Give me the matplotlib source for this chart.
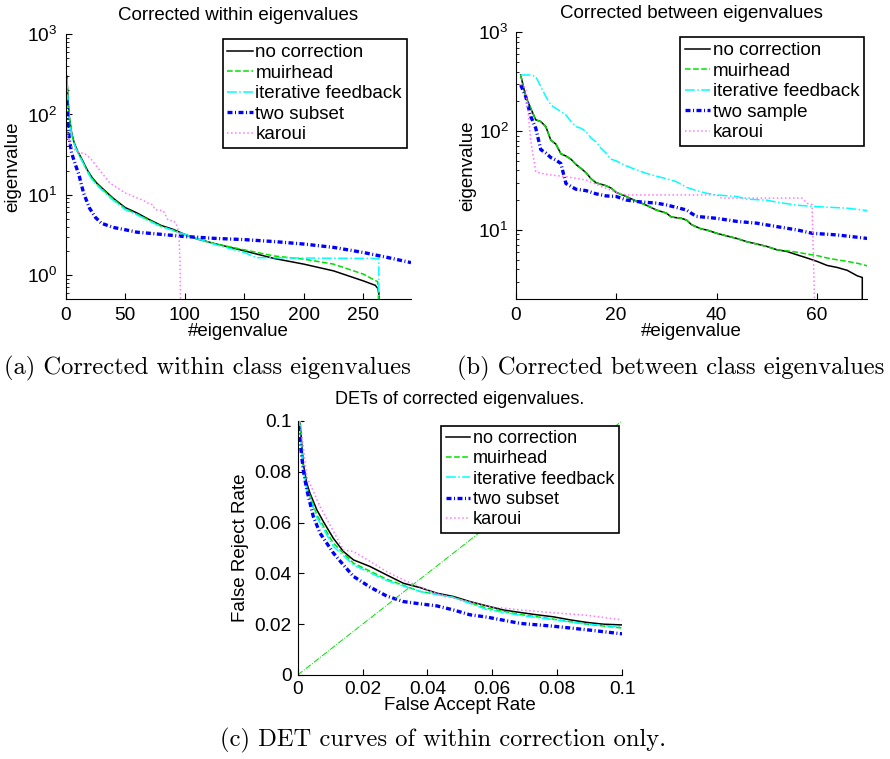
import numpy as np
import matplotlib
matplotlib.use("Agg")
import matplotlib.pyplot as plt
from matplotlib.ticker import FuncFormatter, LogLocator, NullFormatter

plt.rcParams['font.family'] = ['Liberation Sans', 'DejaVu Sans']
plt.rcParams['mathtext.fontset'] = 'custom'
plt.rcParams['mathtext.rm'] = 'Liberation Sans'

# ---- (a) within class eigenvalues ----
a_none_x = [1, 2, 3, 5, 7, 10, 14, 18, 22, 26, 30, 35, 40, 50, 60, 70, 80, 90, 100, 110, 125, 150, 175, 200, 225, 250, 260, 262, 263, 263]
a_none_y = [300, 150, 95, 59, 45, 35, 27, 20.5, 16.5, 14, 12.3, 10.5, 9.0, 6.9, 5.9, 4.9, 4.14, 3.7, 3.2, 2.82, 2.45, 1.99, 1.6, 1.36, 1.12, 0.84, 0.74, 0.68, 0.6, 0.4]
a_muir_x = [1, 2, 3, 5, 7, 10, 14, 18, 22, 26, 30, 35, 40, 50, 60, 70, 80, 90, 100, 110, 125, 150, 175, 200, 225, 250, 262, 263]
a_muir_y = [290, 145, 92, 57, 44, 34, 26, 20, 16, 13.6, 12, 10.2, 8.8, 6.7, 5.7, 4.8, 4.05, 3.6, 3.15, 2.8, 2.45, 2.05, 1.72, 1.57, 1.36, 1.02, 0.82, 0.4]
a_iter_x = [1, 2, 3, 5, 7, 10, 14, 18, 22, 26, 30, 35, 40, 50, 60, 70, 80, 90, 100, 110, 125, 150, 160, 200, 263, 263]
a_iter_y = [280, 140, 90, 56, 43, 34, 26, 19.5, 15.5, 13.2, 11.6, 9.9, 8.5, 6.5, 5.6, 4.7, 4.0, 3.6, 3.2, 2.85, 2.4, 1.9, 1.64, 1.62, 1.6, 0.4]
a_two_x = [1, 2, 3, 5, 8, 11, 15, 20, 25, 30, 40, 50, 60, 70, 80, 90, 100, 110, 125, 150, 175, 200, 225, 250, 270, 290]
a_two_y = [150, 75, 50, 33, 24, 18, 10.5, 6.8, 5.2, 4.4, 3.9, 3.65, 3.4, 3.3, 3.2, 3.1, 3.0, 2.95, 2.85, 2.75, 2.6, 2.42, 2.2, 1.9, 1.65, 1.42]
a_kar_x = [1, 2, 4, 6, 9, 12, 15, 18, 22, 26, 30, 37, 44, 50, 55, 60, 65, 70, 73, 75, 82, 84, 86, 91, 93, 95, 96, 96.5]
a_kar_y = [70, 50, 42, 38, 35, 33, 33, 31, 27, 22.5, 19, 14, 12, 10.5, 9.8, 9.1, 8.5, 7.7, 7.5, 6.5, 6.3, 5.5, 4.8, 4.7, 4.2, 3.4, 1.5, 0.4]

# ---- (b) between class eigenvalues ----
b_none_x = [1, 2, 3, 4, 5, 6, 7, 8, 9, 10, 11, 12, 13, 14, 15, 16, 17, 18, 19, 20, 22, 24, 26, 28, 30, 31, 33, 34, 35, 37, 38, 40, 42, 44, 46, 48, 50, 52, 54, 56, 58, 60, 62, 64, 66, 68, 69, 69]
b_none_y = [370, 224, 170, 130, 125, 111, 81, 74, 59, 56, 52, 46, 42, 38, 33, 30, 29, 28, 26.5, 24, 21.8, 19.6, 17.8, 15.9, 14.8, 13.5, 13.1, 12.6, 11.3, 10.2, 10, 9.25, 8.7, 8.2, 7.6, 7.2, 6.8, 6.3, 6.05, 5.6, 5.2, 4.8, 4.37, 4.17, 3.9, 3.43, 3.3, 1.9]
b_muir_x = [1, 2, 3, 4, 5, 6, 7, 8, 9, 10, 11, 12, 13, 14, 15, 16, 17, 18, 19, 20, 22, 24, 26, 28, 30, 31, 33, 34, 35, 37, 38, 40, 42, 44, 46, 48, 50, 52, 54, 56, 58, 60, 62, 64, 66, 68, 70]
b_muir_y = [370, 224, 170, 130, 125, 111, 81, 74, 59, 56, 52, 46, 42, 38, 33, 30, 29, 28, 26.5, 24, 21.8, 19.6, 17.8, 15.9, 14.8, 13.5, 13.1, 12.6, 11.3, 10.2, 10, 9.25, 8.7, 8.2, 7.6, 7.2, 6.8, 6.3, 6.15, 5.95, 5.7, 5.5, 5.2, 4.98, 4.8, 4.6, 4.33]
b_iter_x = [1, 2, 3, 4, 5, 6, 7, 8, 9, 10, 11, 12, 13, 14, 15, 16, 17, 18, 19, 20, 22, 24, 26, 28, 30, 32, 34, 36, 38, 40, 44, 46, 50, 52, 56, 60, 66, 70]
b_iter_y = [370, 370, 370, 356, 282, 224, 184, 170, 158, 146, 125, 111, 107, 99, 85, 78, 67, 60, 52, 50, 44.6, 40.6, 37.4, 35, 33, 30.8, 27, 25, 23.5, 22.6, 21.8, 20.5, 20, 19.1, 17.8, 17.2, 16.6, 15.7]
b_two_x = [1, 2, 3, 4, 5, 6, 7, 8, 9, 10, 11, 12, 14, 16, 18, 20, 22, 24, 26, 28, 30, 32, 34, 35, 36, 40, 44, 48, 52, 56, 59, 64, 70]
b_two_y = [293, 224, 141, 107, 65, 60, 54, 51, 47, 29.5, 27.6, 25.8, 25, 23.2, 22.1, 21.8, 20.1, 19.4, 19.0, 18.7, 17.9, 16.9, 15.9, 14.7, 13.7, 13.1, 12.2, 11.7, 10.8, 10, 9.25, 8.9, 8.2]
b_kar_x = [1, 2, 2.5, 3, 4, 5, 7, 10, 14, 17, 20, 22, 40, 41, 57, 58, 59, 59.5]
b_kar_y = [300, 272, 150, 80, 39, 37.5, 36, 34.6, 32, 27.6, 24, 22.6, 22.6, 21, 21, 18.6, 18, 1.9]

# ---- (c) DET curves ----
c_none_x = [0.0007, 0.0017, 0.0028, 0.0038, 0.0059, 0.0079, 0.011, 0.0141, 0.0172, 0.0223, 0.0274, 0.0326, 0.0377, 0.0429, 0.048, 0.0531, 0.0583, 0.0634, 0.0686, 0.0737, 0.0788, 0.084, 0.0891, 0.0942, 0.1]
c_none_y = [0.1, 0.0833, 0.0755, 0.0715, 0.065, 0.0604, 0.0538, 0.0486, 0.0453, 0.0427, 0.0394, 0.0361, 0.0344, 0.0322, 0.0309, 0.0289, 0.0272, 0.0256, 0.0246, 0.0237, 0.0229, 0.0217, 0.0207, 0.0200, 0.0197]
c_muir_x = [0.0006, 0.0017, 0.0028, 0.0059, 0.011, 0.0172, 0.0274, 0.0377, 0.048, 0.0583, 0.0686, 0.0788, 0.0891, 0.1]
c_muir_y = [0.1, 0.082, 0.074, 0.063, 0.0519, 0.044, 0.0377, 0.0329, 0.0306, 0.0263, 0.0238, 0.022, 0.0200, 0.0185]
c_iter_x = [0.0005, 0.0017, 0.0028, 0.0059, 0.011, 0.0172, 0.0274, 0.0377, 0.048, 0.0583, 0.0686, 0.0788, 0.0891, 0.1]
c_iter_y = [0.1, 0.081, 0.073, 0.062, 0.0506, 0.0433, 0.0372, 0.0329, 0.0305, 0.0258, 0.0235, 0.0218, 0.0200, 0.0189]
c_two_x = [0.0002, 0.0017, 0.0028, 0.0048, 0.0069, 0.011, 0.0141, 0.0172, 0.0223, 0.0274, 0.0326, 0.0377, 0.0429, 0.048, 0.0531, 0.0583, 0.0686, 0.0788, 0.0891, 0.1]
c_two_y = [0.098, 0.0807, 0.0729, 0.0624, 0.0558, 0.048, 0.0433, 0.0388, 0.0346, 0.0311, 0.0289, 0.028, 0.0272, 0.0256, 0.0237, 0.0228, 0.0203, 0.0192, 0.0178, 0.0162]
c_kar_x = [0.0008, 0.0028, 0.0069, 0.0141, 0.0172, 0.0223, 0.0274, 0.0326, 0.0429, 0.0583, 0.0686, 0.0788, 0.0891, 0.1]
c_kar_y = [0.1, 0.078, 0.0663, 0.0492, 0.0486, 0.0447, 0.0407, 0.0374, 0.032, 0.027, 0.0256, 0.0245, 0.0235, 0.0217]
diag = [0, 0.1]

names_a = ['no correction', 'muirhead', 'iterative feedback', 'two subset', 'karoui']
names_b = ['no correction', 'muirhead', 'iterative feedback', 'two sample', 'karoui']

styles = [dict(color='black', ls='-', lw=1.1),
          dict(color='#00e000', ls='--', lw=1.1),
          dict(color='#00ffff', ls='-.', lw=1.1),
          dict(color='#0000ff', lw=2.4, dashes=(1.5, 0.75, 0.3, 0.75)),
          dict(color='#ff77ff', ls=':', lw=1.1)]

FS = 13.5


def style_axes(ax):
    for s in ['top', 'right']:
        ax.spines[s].set_visible(False)
    ax.tick_params(which='both', direction='in', labelsize=13.8, top=False, right=False)
    ax.tick_params(which='major', length=4, pad=6)
    ax.tick_params(which='minor', length=2.2)


def legend(ax, names, x, y, fig, fs=FS):
    lg = ax.legend(names, loc='upper right', bbox_to_anchor=(x, y), bbox_transform=fig.transFigure,
                   borderaxespad=0, fancybox=False, framealpha=1, edgecolor='black', fontsize=fs,
                   handlelength=1.35, handletextpad=0.15, borderpad=0.25, labelspacing=0.18)
    lg.get_frame().set_linewidth(1.2)


fig = plt.figure(figsize=(8.9, 7.59), dpi=100)

# panel a
ax1 = fig.add_axes([0.0738, 0.6061, 0.388, 0.3487])
for xs, ys, st in zip([a_none_x, a_muir_x, a_iter_x, a_two_x, a_kar_x],
                      [a_none_y, a_muir_y, a_iter_y, a_two_y, a_kar_y], styles):
    ax1.plot(xs, ys, **st)
ax1.set_yscale('log')
ax1.set_xlim(0, 290)
ax1.set_ylim(0.5, 1000)
ax1.set_xticks([0, 50, 100, 150, 200, 250])
ax1.yaxis.set_minor_locator(LogLocator(subs=np.arange(2, 10)))
ax1.yaxis.set_minor_formatter(NullFormatter())
style_axes(ax1)
ax1.set_title('Corrected within eigenvalues', fontsize=FS, pad=10)
ax1.set_xlabel('#eigenvalue', fontsize=FS)
ax1.set_ylabel('eigenvalue', fontsize=FS)
ax1.xaxis.set_label_coords(0.5, -0.09)
ax1.yaxis.set_label_coords(-0.13, 0.5)
legend(ax1, names_a, 0.457, 0.948, fig)

# panel b
ax2 = fig.add_axes([0.5794, 0.6061, 0.3951, 0.3513])
for xs, ys, st in zip([b_none_x, b_muir_x, b_iter_x, b_two_x, b_kar_x],
                      [b_none_y, b_muir_y, b_iter_y, b_two_y, b_kar_y], styles):
    ax2.plot(xs, ys, **st)
ax2.set_yscale('log')
ax2.set_xlim(0, 70)
ax2.set_ylim(2, 1000)
ax2.set_xticks([0, 20, 40, 60])
ax2.yaxis.set_minor_locator(LogLocator(subs=np.arange(2, 10)))
ax2.yaxis.set_minor_formatter(NullFormatter())
style_axes(ax2)
ax2.tick_params(axis='y', which='major', pad=5)
ax2.set_title('Corrected between eigenvalues', fontsize=FS, pad=10)
ax2.set_xlabel('#eigenvalue', fontsize=FS)
ax2.set_ylabel('eigenvalue', fontsize=FS)
ax2.xaxis.set_label_coords(0.5, -0.09)
ax2.yaxis.set_label_coords(-0.112, 0.5)
legend(ax2, names_b, 0.9708, 0.9509, fig)

# panel c
ax3 = fig.add_axes([0.3345, 0.1107, 0.3644, 0.3347])
for xs, ys, st in zip([c_none_x, c_muir_x, c_iter_x, c_two_x, c_kar_x],
                      [c_none_y, c_muir_y, c_iter_y, c_two_y, c_kar_y], styles):
    ax3.plot(xs, ys, **st)
ax3.plot(diag, diag, color='#00e000', ls='-.', lw=0.7)
ax3.set_xlim(0, 0.1)
ax3.set_ylim(0, 0.1)
ax3.set_xticks([0, 0.02, 0.04, 0.06, 0.08, 0.1])
ax3.set_yticks([0, 0.02, 0.04, 0.06, 0.08, 0.1])
fmt = FuncFormatter(lambda v, p: '%g' % round(v, 4))
ax3.xaxis.set_major_formatter(fmt)
ax3.yaxis.set_major_formatter(fmt)
style_axes(ax3)
ax3.tick_params(which='major', pad=4.5)
ax3.set_title('DETs of corrected eigenvalues.', fontsize=13, pad=12)
ax3.set_xlabel('False Accept Rate', fontsize=FS)
ax3.set_ylabel('False Reject Rate', fontsize=FS)
ax3.xaxis.set_label_coords(0.5, -0.087)
ax3.yaxis.set_label_coords(-0.15, 0.5)
legend(ax3, names_a, 0.6955, 0.4391, fig, fs=13)

# captions
cap = dict(fontfamily='cmr10', fontsize=17.7, ha='center', va='center')
fig.text(0.233, 0.515, '(a) Corrected within class eigenvalues', **cap)
fig.text(0.754, 0.515, '(b) Corrected between class eigenvalues', **cap)
fig.text(0.498, 0.025, '(c) DET curves of within correction only.', **cap)

fig.savefig('out.png', dpi=100)
